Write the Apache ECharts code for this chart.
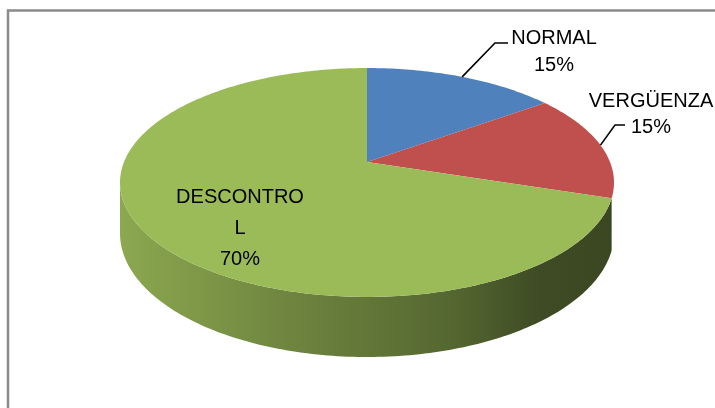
<!DOCTYPE html>
<html>
<head>
<meta charset="utf-8">
<script src="https://cdn.jsdelivr.net/npm/echarts@6/dist/echarts.min.js"></script>
<style>
  html, body { margin: 0; padding: 0; background: #fff; }
  #main { width: 715px; height: 408px; }
</style>
</head>
<body>
<div id="main"></div>
<script>
// datos del gráfico
var categories = ['NORMAL', 'VERGÜENZA', 'DESCONTROL'];
var values = [15, 15, 70];
var colors = ['#4f81bd', '#c0504d', '#9bbb59'];

var total = values.reduce(function (a, b) { return a + b; }, 0);

// geometría del pastel 3D (perspectiva simple)
var cx = 367, cy = 162, A = 243, B = 81.8, R = -0.179, D = 49.3;
var wallFrom = Math.acos(R) * 180 / Math.PI, wallTo = 360 - wallFrom;

// posición de las etiquetas (texto y codo de la línea guía)
var labelLayout = [
    {x: 554, y: 52, lh: 27, line: [[495, 43], [508, 43]]},
    {x: 651, y: 114, lh: 26, line: [[615, 125], [625, 125]]},
    {x: 240, y: 228, lh: 31}
];

function proj(theta, h) {
    var t = theta * Math.PI / 180, u = Math.sin(t), v = -Math.cos(t), k = 1 + R * v;
    return [cx + A * u / k, (cy + B * v + D * h) / k];
}

function shade(hex, f) {
    var n = parseInt(hex.slice(1), 16);
    var r = Math.round(((n >> 16) & 255) * f), g = Math.round(((n >> 8) & 255) * f), b = Math.round((n & 255) * f);
    return 'rgb(' + r + ',' + g + ',' + b + ')';
}

function renderItem(params, api) {
    var i = params.dataIndex;
    var before = 0;
    for (var j = 0; j < i; j++) before += values[j];
    var start = before / total * 360, end = (before + api.value(0)) / total * 360;
    var children = [];

    // pared lateral (se omite si es una franja casi invisible)
    var a = Math.max(start, wallFrom), b = Math.min(end, wallTo);
    if (b > a && Math.abs(proj(a, 0)[0] - proj(b, 0)[0]) > 4) {
        var pts = [], t;
        for (t = a; t < b; t += 1) pts.push(proj(t, 0));
        pts.push(proj(b, 0));
        for (t = b; t > a; t -= 1) pts.push(proj(t, 1));
        pts.push(proj(a, 1));
        var left = cx - A - 5, right = cx + A + 5;
        children.push({
            type: 'polygon',
            shape: {points: pts},
            style: {
                fill: new echarts.graphic.LinearGradient(left, 0, right, 0, [
                    {offset: 0, color: shade(colors[i], 0.9)},
                    {offset: 0.36, color: shade(colors[i], 0.7)},
                    {offset: 0.67, color: shade(colors[i], 0.55)},
                    {offset: 0.85, color: shade(colors[i], 0.4)},
                    {offset: 1, color: shade(colors[i], 0.38)}
                ], true)
            }
        });
    }

    // cara superior
    var top = [[cx, cy]];
    for (var s = start; s < end; s += 1) top.push(proj(s, 0));
    top.push(proj(end, 0));
    children.push({type: 'polygon', shape: {points: top}, style: {fill: colors[i]}});

    // etiqueta
    var lay = labelLayout[i];
    var pct = Math.round(api.value(0) / total * 100) + '%';
    if (lay.line) {
        var mid = proj((start + end) / 2, 0);
        children.push({
            type: 'polyline',
            shape: {points: [mid].concat(lay.line)},
            style: {stroke: '#000', lineWidth: 1.6, fill: null}
        });
    }
    children.push({
        type: 'text',
        style: {
            text: categories[i] + '\n' + pct,
            x: lay.x, y: lay.y,
            align: 'center', verticalAlign: 'middle',
            font: '20px "Liberation Sans", Arial, sans-serif',
            fill: '#000',
            lineHeight: lay.lh,
            width: 132,
            overflow: 'breakAll'
        }
    });

    return {type: 'group', children: children};
}

var myChart = echarts.init(document.getElementById('main'));

var option = {
    backgroundColor: '#fff',
    animation: false,
    graphic: [{
        type: 'rect',
        shape: {x: 8, y: 10.5, width: 900, height: 900},
        style: {fill: null, stroke: '#8a8a8a', lineWidth: 2.5},
        z: 10
    }],
    series: [{
        type: 'custom',
        coordinateSystem: 'none',
        silent: true,
        renderItem: renderItem,
        data: values.map(function (v) { return [v]; })
    }]
};

myChart.setOption(option);
</script>
</body>
</html>
